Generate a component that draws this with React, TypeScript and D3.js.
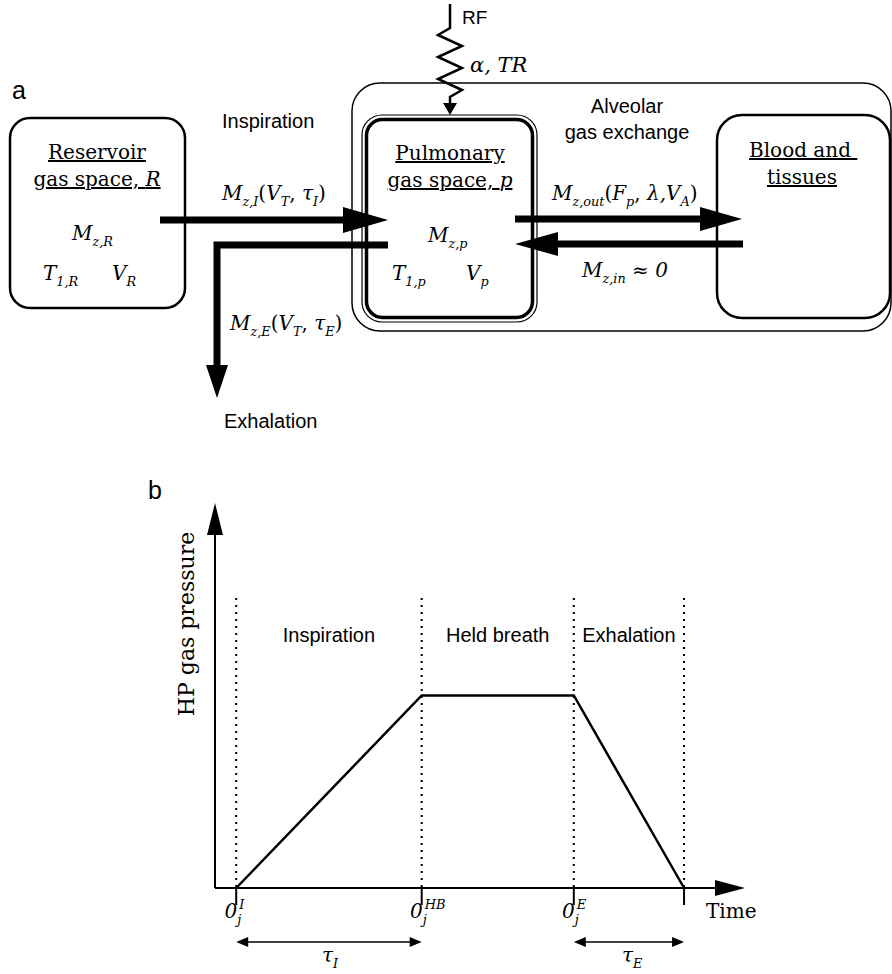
import React from 'react';
import * as d3 from 'd3';

const SANS = '"Liberation Sans", Arial, sans-serif';
const SERIF = '"DejaVu Serif", serif';

// ---- Panel b data ----
const phaseNames = ['Inspiration', 'Held breath', 'Exhalation'];
const phaseTimes = [4, 39, 67.7, 88.5]; // 0_j^I, 0_j^HB, 0_j^E, end of exhalation
const pressureValues = [0, 50, 50, 0];
const tickSups = ['I', 'HB', 'E'];
const spanArrows = [
  { from: 0, to: 1, sub: 'I' },
  { from: 2, to: 3, sub: 'E' },
];

type Seg = { t: string; i?: boolean; s?: 'sub' | 'sup' };

function Rich({ x, y, segs, size = 20, anchor = 'start' }: { x: number; y: number; segs: Seg[]; size?: number; anchor?: string }) {
  let cur = 0;
  return (
    <text x={x} y={y} fontFamily={SERIF} fontSize={size} textAnchor={anchor} fill="#000" style={{ whiteSpace: 'pre' }}>
      {segs.map((sg, k) => {
        const target = sg.s === 'sub' ? size * 0.32 : sg.s === 'sup' ? -size * 0.42 : 0;
        const dy = target - cur;
        cur = target;
        return (
          <tspan key={k} dy={dy} fontSize={sg.s ? size * 0.64 : size} fontStyle={sg.i ? 'italic' : 'normal'}>
            {sg.t}
          </tspan>
        );
      })}
    </text>
  );
}

function FatArrow({ pts, w = 7, headLen = 44, headW = 13 }: { pts: [number, number][]; w?: number; headLen?: number; headW?: number }) {
  const n = pts.length;
  const [tx, ty] = pts[n - 1];
  const [px, py] = pts[n - 2];
  const len = Math.hypot(tx - px, ty - py);
  const ux = (tx - px) / len;
  const uy = (ty - py) / len;
  const bx = tx - ux * headLen;
  const by = ty - uy * headLen;
  const linePts = [...pts.slice(0, n - 1), [bx + ux * 2, by + uy * 2] as [number, number]];
  const line = d3.line()(linePts) || '';
  const head = `M${tx},${ty}L${bx - uy * headW},${by + ux * headW}L${bx + uy * headW},${by - ux * headW}Z`;
  return (
    <g>
      <path d={line} fill="none" stroke="#000" strokeWidth={w} strokeLinejoin="miter" />
      <path d={head} fill="#000" />
    </g>
  );
}

function ThinArrowHead({ x, y, dir, len = 12, hw = 5 }: { x: number; y: number; dir: number; len?: number; hw?: number }) {
  return <path d={`M${x},${y}L${x - dir * len},${y - hw}L${x - dir * len},${y + hw}Z`} fill="#000" />;
}

export default function App() {
  const x = d3.scaleLinear().domain([0, 100]).range([215, 745]);
  const y = d3.scaleLinear().domain([0, 100]).range([888, 503]);
  const x0 = x(0);
  const y0 = y(0);

  const curve = d3
    .line<number>()
    .x((_, i) => x(phaseTimes[i]))
    .y((d) => y(d))(pressureValues) || '';

  // RF zigzag
  const zig: [number, number][] = [[450, 4], [450, 28]];
  const zy = [35, 46, 57, 68, 79, 90];
  zy.forEach((v, i) => zig.push([i % 2 === 0 ? 438 : 462, v]));
  zig.push([450, 97], [450, 104]);

  return (
    <svg width={892} height={974} style={{ display: 'block', position: 'absolute', left: 0, top: 0, background: '#fff' }}>
      {/* ---------- Panel a ---------- */}
      <text x={12} y={99} fontFamily={SANS} fontSize={25} fill="#000">a</text>

      {/* RF */}
      <path d={d3.line()(zig) || ''} fill="none" stroke="#000" strokeWidth={2.5} strokeLinejoin="miter" />
      <path d="M450,115L443,103L457,103Z" fill="#000" />
      <text x={462} y={24} fontFamily={SANS} fontSize={19} fill="#000">RF</text>
      <Rich x={470} y={72} size={21} segs={[{ t: 'α, TR', i: true }]} />

      {/* Alveolar outer box */}
      <rect x={352} y={83} width={539} height={248} rx={28} fill="none" stroke="#000" strokeWidth={1.5} />
      <text x={627} y={113} fontFamily={SANS} fontSize={20} textAnchor="middle" fill="#000">Alveolar</text>
      <text x={627} y={139} fontFamily={SANS} fontSize={20} textAnchor="middle" fill="#000">gas exchange</text>

      {/* Reservoir box */}
      <rect x={10} y={118} width={175} height={190} rx={20} fill="none" stroke="#000" strokeWidth={2.5} />
      <text x={97} y={159} fontFamily={SERIF} fontSize={20} textAnchor="middle" textDecoration="underline" fill="#000">Reservoir</text>
      <text x={97} y={186} fontFamily={SERIF} fontSize={20} textAnchor="middle" textDecoration="underline" fill="#000">
        gas space, <tspan fontStyle="italic">R</tspan>
      </text>
      <Rich x={72} y={240} segs={[{ t: 'M', i: true }, { t: 'z,R', i: true, s: 'sub' }]} />
      <Rich x={43} y={280} segs={[{ t: 'T', i: true }, { t: '1,R', i: true, s: 'sub' }]} />
      <Rich x={112} y={280} segs={[{ t: 'V', i: true }, { t: 'R', i: true, s: 'sub' }]} />

      {/* Pulmonary box (double border) */}
      <rect x={362} y={115} width={175} height={207} rx={20} fill="none" stroke="#000" strokeWidth={1.2} />
      <rect x={366.5} y={119.5} width={166} height={198} rx={16} fill="none" stroke="#000" strokeWidth={3.5} />
      <text x={450} y={160} fontFamily={SERIF} fontSize={20} textAnchor="middle" textDecoration="underline" fill="#000">Pulmonary</text>
      <text x={450} y={187} fontFamily={SERIF} fontSize={20} textAnchor="middle" textDecoration="underline" fill="#000">
        gas space, <tspan fontStyle="italic">p</tspan>
      </text>
      <Rich x={428} y={242} segs={[{ t: 'M', i: true }, { t: 'z,p', i: true, s: 'sub' }]} />
      <Rich x={392} y={280} segs={[{ t: 'T', i: true }, { t: '1,p', i: true, s: 'sub' }]} />
      <Rich x={466} y={280} segs={[{ t: 'V', i: true }, { t: 'p', i: true, s: 'sub' }]} />

      {/* Blood box */}
      <rect x={717} y={115} width={173} height={203} rx={25} fill="none" stroke="#000" strokeWidth={2.5} />
      <text x={749} y={157} fontFamily={SERIF} fontSize={20} textDecoration="underline" fill="#000" style={{ whiteSpace: 'pre' }}>Blood and </text>
      <text x={767} y={184} fontFamily={SERIF} fontSize={20} textDecoration="underline" fill="#000">tissues</text>

      {/* Inspiration / exhalation arrows */}
      <text x={222} y={128} fontFamily={SANS} fontSize={20} fill="#000">Inspiration</text>
      <FatArrow pts={[[160, 220], [388, 220]]} headLen={45} headW={13} />
      <Rich x={222} y={200} segs={[
        { t: 'M', i: true }, { t: 'z,I', i: true, s: 'sub' }, { t: '(' }, { t: 'V', i: true }, { t: 'T', i: true, s: 'sub' },
        { t: ', ' }, { t: 'τ', i: true }, { t: 'I', i: true, s: 'sub' }, { t: ')' },
      ]} />
      <FatArrow pts={[[388, 245], [217, 245], [217, 398]]} headLen={33} headW={11} />
      <Rich x={230} y={330} segs={[
        { t: 'M', i: true }, { t: 'z,E', i: true, s: 'sub' }, { t: '(' }, { t: 'V', i: true }, { t: 'T', i: true, s: 'sub' },
        { t: ', ' }, { t: 'τ', i: true }, { t: 'E', i: true, s: 'sub' }, { t: ')' },
      ]} />
      <text x={224} y={428} fontFamily={SANS} fontSize={20} fill="#000">Exhalation</text>

      {/* Exchange arrows */}
      <FatArrow pts={[[515, 219], [742, 219]]} headLen={42} headW={12} />
      <Rich x={552} y={200} segs={[
        { t: 'M', i: true }, { t: 'z,out', i: true, s: 'sub' }, { t: '(' }, { t: 'F', i: true }, { t: 'p', i: true, s: 'sub' },
        { t: ', ' }, { t: 'λ,', i: true }, { t: 'V', i: true }, { t: 'A', i: true, s: 'sub' }, { t: ')' },
      ]} />
      <FatArrow pts={[[743, 244], [515, 244]]} headLen={43} headW={12} />
      <Rich x={582} y={277} segs={[
        { t: 'M', i: true }, { t: 'z,in', i: true, s: 'sub' }, { t: ' ≈ ' }, { t: '0', i: true },
      ]} />

      {/* ---------- Panel b ---------- */}
      <text x={148} y={499} fontFamily={SANS} fontSize={25} fill="#000">b</text>
      <text transform={`translate(194,624) rotate(-90)`} fontFamily={SERIF} fontSize={22} textAnchor="middle" fill="#000">HP gas pressure</text>

      {/* dotted phase boundaries */}
      {phaseTimes.map((t, i) => (
        <line key={'d' + i} x1={x(t)} x2={x(t)} y1={598} y2={y0} stroke="#000" strokeWidth={2} strokeDasharray="2 5" />
      ))}
      {phaseNames.map((nm, i) => (
        <text key={'p' + i} x={(x(phaseTimes[i]) + x(phaseTimes[i + 1])) / 2} y={642} fontFamily={SANS} fontSize={20} textAnchor="middle" fill="#000">{nm}</text>
      ))}

      {/* axes */}
      <line x1={x0} x2={x0} y1={y0} y2={y(100) + 30} stroke="#000" strokeWidth={2} />
      <path d={`M${x0},${y(100)}L${x0 - 8},${y(100) + 32}L${x0 + 8},${y(100) + 32}Z`} fill="#000" />
      <line x1={x0} x2={x(100) - 28} y1={y0} y2={y0} stroke="#000" strokeWidth={2} />
      <path d={`M${x(100)},${y0}L${x(100) - 30},${y0 - 8}L${x(100) - 30},${y0 + 8}Z`} fill="#000" />
      {phaseTimes.map((t, i) => (
        <line key={'t' + i} x1={x(t)} x2={x(t)} y1={y0} y2={y0 + 17} stroke="#000" strokeWidth={2} />
      ))}
      {tickSups.map((s, i) => (
        <g key={'l' + i}>
          <text x={x(phaseTimes[i]) + 1} y={918} fontFamily={SERIF} fontSize={20} fontStyle="italic" textAnchor="end" fill="#000">0</text>
          <text x={x(phaseTimes[i]) + 1} y={924} fontFamily={SERIF} fontSize={13} fontStyle="italic" fill="#000">j</text>
          <text x={x(phaseTimes[i]) + 3} y={909} fontFamily={SERIF} fontSize={13} fontStyle="italic" fill="#000">{s}</text>
        </g>
      ))}
      <text x={706} y={918} fontFamily={SERIF} fontSize={20} fill="#000">Time</text>

      {/* pressure curve */}
      <path d={curve} fill="none" stroke="#000" strokeWidth={2.5} strokeLinejoin="miter" />

      {/* tau span arrows */}
      {spanArrows.map((s, i) => {
        const xa = x(phaseTimes[s.from]);
        const xb = x(phaseTimes[s.to]);
        return (
          <g key={'s' + i}>
            <line x1={xa + 8} x2={xb - 8} y1={942} y2={942} stroke="#000" strokeWidth={1.6} />
            <ThinArrowHead x={xa} y={942} dir={-1} />
            <ThinArrowHead x={xb} y={942} dir={1} />
            <Rich x={(xa + xb) / 2 - 7} y={962} segs={[{ t: 'τ', i: true }, { t: s.sub, i: true, s: 'sub' }]} />
          </g>
        );
      })}
    </svg>
  );
}
